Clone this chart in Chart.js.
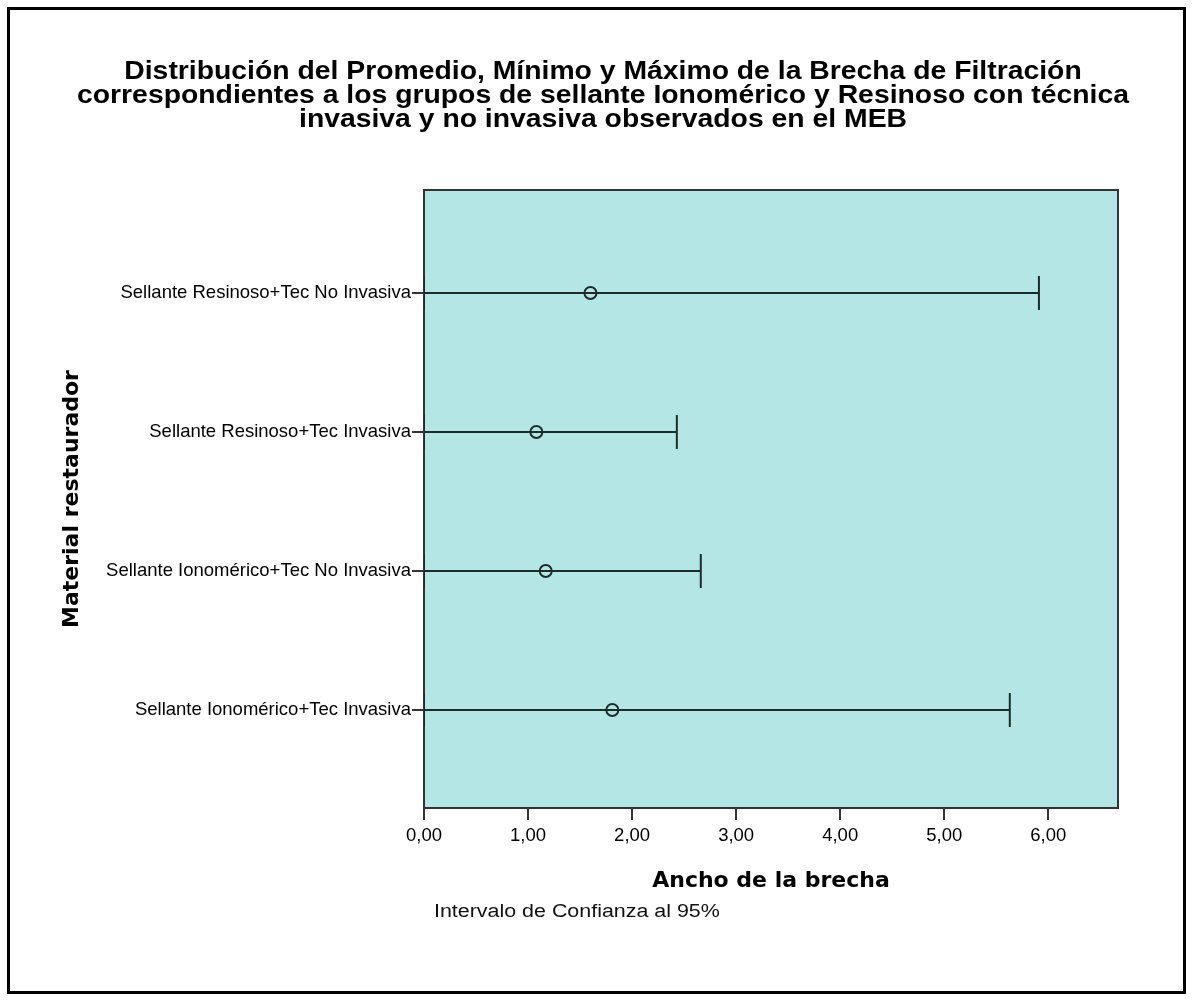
<!DOCTYPE html>
<html>
<head>
<meta charset="utf-8">
<script src="https://cdn.jsdelivr.net/npm/chart.js@4/dist/chart.umd.min.js"></script>
<style>
html,body{margin:0;padding:0;background:#fff;overflow:hidden;}
canvas{display:block;}
</style>
</head>
<body>
<canvas id="c" width="1192" height="1001"></canvas>
<script>
const categories = [
  'Sellante Resinoso+Tec No Invasiva',
  'Sellante Resinoso+Tec Invasiva',
  'Sellante Ionomérico+Tec No Invasiva',
  'Sellante Ionomérico+Tec Invasiva'
];
const meanValues = [1.60, 1.08, 1.17, 1.81];
const lowerValues = [0, 0, 0, 0];
const upperValues = [5.91, 2.43, 2.66, 5.63];
const xTickValues = [0, 1, 2, 3, 4, 5, 6];
const titleLines = [
  'Distribución del Promedio, Mínimo y Máximo de la Brecha de Filtración',
  'correspondientes a los grupos de sellante Ionomérico y Resinoso con técnica',
  'invasiva y no invasiva observados en el MEB'
];
const xAxisTitle = 'Ancho de la brecha';
const yAxisTitle = 'Material restaurador';
const footnote = 'Intervalo de Confianza al 95%';

const ink = '#1e2b2b';
const datasets = [];
categories.forEach((c, i) => {
  datasets.push({
    label: 'ci' + i,
    showLine: true,
    data: [{x: lowerValues[i], y: i}, {x: upperValues[i], y: i}],
    borderColor: ink, borderWidth: 2, pointRadius: 0
  });
});
const capData = [];
categories.forEach((c, i) => {
  capData.push({x: lowerValues[i], y: i});
  capData.push({x: upperValues[i], y: i});
});
datasets.push({
  label: 'caps', data: capData, showLine: false,
  pointStyle: 'line', rotation: 90, pointRadius: 17,
  borderColor: ink, borderWidth: 2, backgroundColor: ink
});
datasets.push({
  label: 'mean', data: meanValues.map((v, i) => ({x: v, y: i})), showLine: false,
  pointStyle: 'circle', pointRadius: 6, borderColor: ink, borderWidth: 2,
  backgroundColor: 'rgba(0,0,0,0)'
});

function stretchedText(ctx, text, x, y, sx) {
  ctx.save();
  ctx.translate(x, y);
  ctx.scale(sx, 1);
  ctx.fillText(text, 0, 0);
  ctx.restore();
}

const decor = {
  id: 'decor',
  beforeDraw(chart) {
    const ctx = chart.ctx, a = chart.chartArea;
    ctx.save();
    ctx.fillStyle = '#fff';
    ctx.fillRect(0, 0, chart.width, chart.height);
    ctx.strokeStyle = '#000';
    ctx.lineWidth = 3;
    ctx.strokeRect(8.5, 8.5, 1176, 984);
    ctx.fillStyle = '#b4e6e6';
    ctx.fillRect(a.left, a.top, a.right - a.left, a.bottom - a.top);
    ctx.restore();
  },
  beforeDatasetsDraw(chart) {
    const ctx = chart.ctx, a = chart.chartArea;
    ctx.save();
    ctx.strokeStyle = '#333';
    ctx.lineWidth = 2;
    ctx.strokeRect(a.left, a.top, a.right - a.left, a.bottom - a.top);
    ctx.restore();
  },
  afterDraw(chart) {
    const ctx = chart.ctx;
    ctx.save();
    ctx.fillStyle = '#000';
    ctx.textAlign = 'center';
    ctx.textBaseline = 'middle';
    ctx.font = 'bold 26px "Liberation Sans", Arial, sans-serif';
    titleLines.forEach((t, i) => stretchedText(ctx, t, 603, 72 + i * 24, 1.09));
    ctx.textAlign = 'left';
    ctx.font = '18px "Liberation Sans", Arial, sans-serif';
    ctx.fillStyle = '#111';
    stretchedText(ctx, footnote, 434, 912, 1.19);
    ctx.restore();
  }
};

new Chart(document.getElementById('c'), {
  type: 'scatter',
  data: {datasets},
  plugins: [decor],
  options: {
    responsive: false,
    animation: false,
    events: [],
    layout: {padding: {top: 190, right: 74, bottom: 107, left: 59}},
    plugins: {legend: {display: false}, tooltip: {enabled: false}, title: {display: false}},
    scales: {
      x: {
        type: 'linear', min: 0, max: 6.67,
        afterBuildTicks(s) { s.ticks = xTickValues.map(v => ({value: v})); },
        afterFit(s) { s.height = 86; },
        ticks: {
          autoSkip: false, maxRotation: 0, padding: 5, color: '#000',
          font: {family: '"Liberation Sans", Arial, sans-serif', size: 18.5},
          callback: v => v.toFixed(2).replace('.', ',')
        },
        grid: {drawOnChartArea: false, drawTicks: true, tickLength: 12, color: '#333', lineWidth: 2},
        border: {display: false},
        title: {display: true, text: xAxisTitle, color: '#000', padding: 0,
          font: {family: '"DejaVu Sans", sans-serif', size: 22, weight: 'bold'}}
      },
      y: {
        type: 'linear', reverse: true, min: -0.741, max: 3.705,
        afterBuildTicks(s) { s.ticks = categories.map((c, i) => ({value: i})); },
        afterFit(s) { s.width = 365; },
        ticks: {
          autoSkip: false, padding: 1, color: '#000',
          font: {family: '"Liberation Sans", Arial, sans-serif', size: 18.5},
          callback: v => categories[v]
        },
        grid: {drawOnChartArea: false, drawTicks: true, tickLength: 12, color: '#333', lineWidth: 2},
        border: {display: false},
        title: {display: true, text: yAxisTitle, color: '#000', padding: 0,
          font: {family: '"DejaVu Sans", sans-serif', size: 22, weight: 'bold'}}
      }
    }
  }
});
</script>
</body>
</html>
